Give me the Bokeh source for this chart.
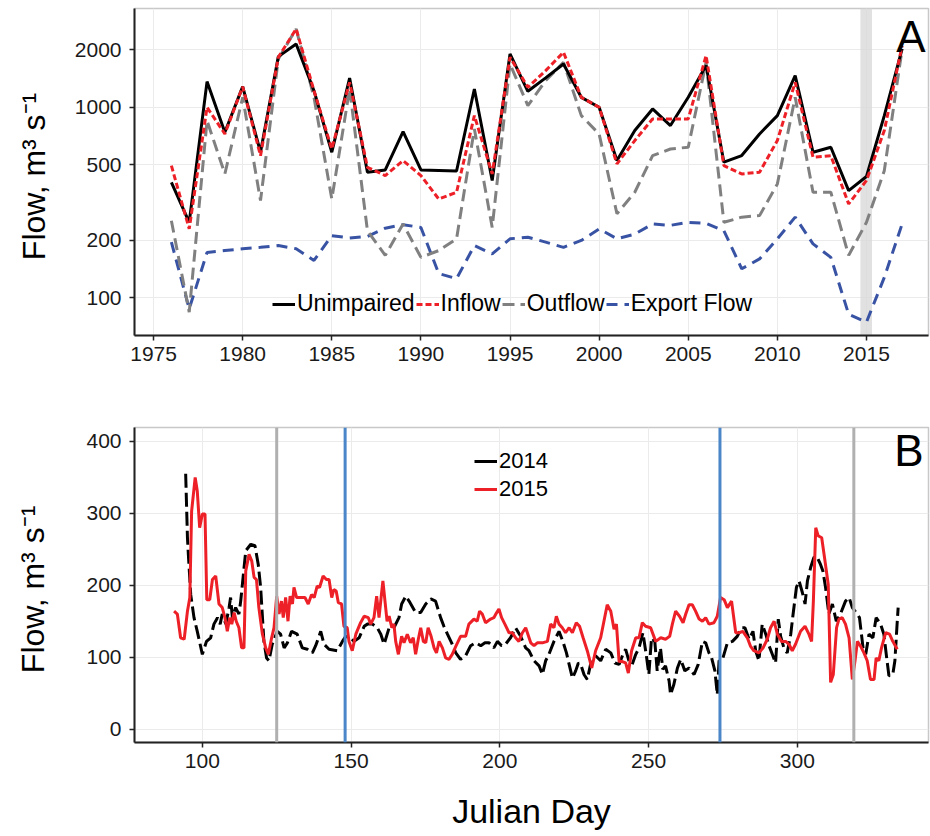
from bokeh.plotting import figure
from bokeh.models import (FixedTicker, PrintfTickFormatter, Legend, LegendItem,
                          BoxAnnotation, Span, Label, ColumnDataSource)
from bokeh.layouts import column
from bokeh.embed import file_html
from bokeh.resources import INLINE

# ---------------- Panel A data (annual flows, m3/s) ----------------
years = list(range(1976, 2018))
unimpaired = [404, 249, 1364, 740, 1283, 581, 1845, 2149, 1222, 581, 1425, 456, 469, 745,
              469, 466, 463, 1248, 413, 1906, 1213, 1426, 1688, 1128, 1000, 525, 755, 980, 802,
              1128, 1655, 515, 558, 724, 904, 1466, 581, 617, 365, 433, 904, 2023]
inflow = [494, 230, 1000, 725, 1283, 557, 1830, 2577, 1222, 604, 1352, 484, 438, 525,
          438, 330, 358, 904, 447, 1830, 1273, 1557, 1944, 1128, 1000, 505, 669, 869, 869,
          869, 1867, 494, 447, 456, 669, 1352, 547, 557, 311, 413, 755, 2108]
outflow = [254, 84, 851, 447, 1128, 324, 1794, 2577, 1128, 330, 1248, 225, 167, 244,
           163, 177, 204, 770, 234, 1688, 1020, 1380, 1721, 904, 724, 276, 358, 557, 604,
           617, 1721, 249, 265, 270, 396, 1128, 358, 358, 167, 249, 465, 2023]
export_flow = [196, 87.5, 173, 177, 181, 184, 188, 181, 157, 212, 206, 210, 232, 242,
               234, 134, 126, 188, 170, 204, 208, 196, 184, 200, 230, 204, 216, 244, 240,
               249, 246, 225, 142, 160, 204, 265, 192, 163, 82, 74.5, 128, 244]
drought_band = (2014.66, 2015.31)
a_xticks = [1975, 1980, 1985, 1990, 1995, 2000, 2005, 2010, 2015]
a_yticks = [100, 200, 500, 1000, 2000]

# ---------------- Panel B data (daily flows, m3/s) ----------------
day_2015 = [90.5, 91.6, 92.7, 93.9, 95, 95.8, 96.4, 97.6, 98.3, 99.1, 100, 100.9, 101.5, 102.5,
            103.4, 104.5, 105.6, 106.7, 107.6, 108.4, 109.2, 109.9, 110.7, 111.4, 112.3, 113.2,
            114, 114.6, 115.7, 116.6, 117.4, 118.2, 119, 120.2, 121.3, 122.2, 123.3, 124.1, 125,
            125.8, 126.6, 127.2, 128, 128.8, 129.5, 130.3, 130.8, 131.7, 133, 134.5, 135.6,
            136.7, 137.6, 138.6, 139.4, 140.6, 141.7, 142.6, 143.5, 144.2, 145, 145.7, 146.8,
            147.6, 148.7, 149.3, 150.4, 151.6, 153.2, 154.4, 155.8, 156.6, 157.7, 158.6, 159.4,
            160.1, 160.7, 161.4, 162.1, 162.8, 163.7, 164.4, 165, 165.9, 167, 167.8, 168.9, 170,
            170.9, 171.7, 172.6, 173.4, 174.3, 175.1, 175.9, 176.9, 177.9, 178.7, 179.6, 180.7,
            181.8, 182.9, 184, 185.2, 186.8, 188.5, 189.6, 191.3, 192.4, 193.2, 194.1, 195.2,
            196.9, 198, 198.8, 199.7, 200.6, 201.7, 203.1, 204.2, 205.3, 206.4, 207.6, 208.7,
            210.4, 211.5, 212.6, 214.3, 216, 217.1, 218.2, 219, 219.9, 221, 222.1, 223.3, 224.4,
            225.7, 226.8, 228, 229.4, 230.9, 232.2, 233.9, 235, 236.1, 237.3, 238.4, 239.2,
            240.1, 241.2, 242.3, 243.2, 244.3, 245.7, 246.8, 247.9, 249, 250.7, 252.4, 254.1,
            255.7, 257.1, 258, 259.1, 260.4, 261.6, 262.5, 263.6, 264.7, 265.8, 267, 268.1,
            269.2, 270.3, 272, 273.1, 274.2, 275.4, 276.5, 277.9, 279.3, 280.4, 281.7, 283.2,
            284.3, 285.4, 287.1, 288.5, 289.9, 291, 292.2, 293.3, 294.7, 296.1, 297.2, 298.3,
            299.4, 301.1, 302.6, 303.9, 304.8, 305.4, 306.2, 307, 308.2, 309.3, 310.4, 311.2,
            312.1, 313.2, 314, 315.1, 316.2, 317.4, 318.5, 319.4, 320.2, 321.3, 322.4, 323.5,
            324.6, 325.8, 326.5, 327.4, 328.3, 329.7, 331, 332.1, 333.6]
flow_2015 = [164, 160, 127, 125, 164, 183, 303, 350, 331, 280, 299, 299, 180, 180,
             208, 213, 174, 169, 155, 136, 155, 146, 162, 150, 141, 113,
             113, 220, 243, 234, 211, 208, 169, 132, 113, 104, 127, 141, 185,
             160, 178, 155, 183, 150, 185, 174, 197, 183, 183, 183, 174,
             187, 183, 199, 197, 213, 208, 208, 183, 194, 192, 176, 174,
             143, 141, 122, 109, 132, 148, 157, 155, 146, 155, 185, 155,
             183, 206, 178, 150, 157, 141, 146, 122, 104, 129, 120, 132, 120,
             127, 104, 125, 141, 122, 120, 141, 129, 113, 106, 122, 113,
             99, 97, 104, 115, 129, 129, 146, 153, 150, 164, 160, 148,
             153, 155, 161, 167, 155, 146, 134, 134, 127, 122, 134, 141,
             120, 116, 120, 120, 122, 146, 141, 157, 146, 141, 134, 141, 134,
             148, 143, 127, 109, 85, 109, 127, 150, 173, 164, 139, 146,
             94, 94, 92, 78, 109, 127, 127, 148, 143, 141, 122, 127,
             125, 129, 146, 164, 157, 148, 160, 173, 173, 164, 153, 150,
             155, 146, 148, 157, 183, 180, 169, 178, 134, 134, 136, 127,
             115, 109, 106, 113, 125, 141, 150, 132, 122, 122, 118, 109,
             118, 136, 143, 132, 122, 178, 280, 269, 266, 234, 201, 65,
             76, 141, 153, 155, 146, 127, 69, 95, 122, 115, 106, 95,
             69, 69, 99, 95, 113, 134, 132, 122, 111]
day_2014 = [94.4, 95, 95.3, 96.1, 97.2, 98.3, 100, 101.4, 102.8, 103.9, 105.1, 106, 106.7, 107.9,
            109, 109.5, 110.1, 111.2, 112.3, 112.9, 113.7, 114.6, 116.3, 117.7, 118.8, 119.6,
            120.7, 121.6, 122.4, 123.5, 125.2, 126.3, 127.5, 128.6, 130, 131.9, 133.6, 135.3,
            137, 138.1, 139.8, 140.9, 142.6, 145.4, 147.1, 148.2, 149.8, 151, 152.7, 154.4,
            155.5, 157.2, 158.8, 160, 161.1, 162.8, 164.4, 166.1, 167, 168.4, 169.5, 171.7,
            173.4, 175.1, 176.8, 178.4, 180.1, 181.2, 182.4, 183.8, 185.2, 186.8, 188.5, 190.2,
            191.9, 193.6, 195, 196.4, 198, 199.2, 200.6, 201.9, 203.6, 205.3, 207, 208.7, 209.8,
            211.5, 213.2, 214.3, 215.4, 216.5, 218.2, 219.9, 221.2, 222.4, 223.3, 224.4, 225.5,
            226.4, 227.2, 228.3, 229.4, 230.5, 232.2, 233.9, 235.6, 237.3, 238.7, 240.1, 241.4,
            242.3, 243.4, 244.5, 245.7, 246.8, 248.1, 249.2, 250.1, 251, 252.1, 252.9, 254,
            254.8, 255.7, 256.9, 257.4, 258.5, 259.7, 260.8, 262.2, 263.6, 265.3, 266.7, 268.1,
            269.2, 270.3, 271.2, 272.3, 273.1, 273.7, 275, 276.5, 278.2, 279.8, 281.3, 282.4,
            283.8, 285.1, 286, 287.1, 288.2, 289.4, 290.5, 291.6, 292.7, 293.6, 294.4, 295.5,
            296.6, 297.8, 298.5, 299.7, 300.6, 301.7, 302.6, 303.4, 304.5, 305.6, 306.7, 307.8,
            308.6, 309.5, 310.6, 311.8, 313.1, 314.5, 316.2, 317.4, 318.5, 319.8, 320.9, 322.1,
            323, 324.1, 325.4, 326.5, 328, 329.1, 329.9, 330.8, 332.1, 332.8, 333.6, 333.9]
flow_2014 = [355, 266, 243, 187, 155, 136, 104, 122, 127, 146, 155, 146, 160, 146,
             169, 183, 155, 169, 160, 178, 211, 248, 257, 255, 229, 197,
             122, 99, 95, 118, 136, 132, 113, 120, 136, 132, 113, 111,
             106, 116, 136, 118, 111, 109, 122, 129, 127, 122, 127, 143,
             146, 146, 141, 132, 118, 141, 141, 155, 174, 185, 178, 162,
             162, 174, 181, 178, 155, 143, 132, 120, 106, 97, 102, 116,
             120, 116, 120, 120, 113, 122, 116, 118, 127, 141, 129, 113, 109,
             95, 88, 76, 95, 104, 122, 136, 122, 106, 90, 71, 81,
             92, 90, 76, 69, 90, 102, 95, 111, 106, 92, 90, 104,
             111, 95, 90, 104, 113, 134, 104, 76, 127, 122, 81, 113,
             83, 88, 67, 48, 62, 85, 97, 81, 85, 76, 90, 122,
             120, 106, 99, 81, 48, 95, 99, 120, 122, 129, 141, 141,
             125, 136, 109, 95, 146, 132, 116, 104, 92, 153, 129, 113,
             106, 132, 157, 197, 206, 190, 174, 206, 225, 239, 239, 229,
             220, 197, 160, 174, 150, 160, 178, 183, 169, 162, 155, 113,
             104, 132, 127, 155, 146, 132, 104, 74, 76, 95, 150, 169]
b_xticks = [100, 150, 200, 250, 300]
b_yticks = [0, 100, 200, 300, 400]
gray_days = [125, 319]
blue_days = [148, 274]

FONT = "Liberation Sans"
RED = "#EE2027"


def style(p):
    p.background_fill_color = "white"
    p.border_fill_color = "white"
    p.outline_line_color = "#C8C8C8"
    p.outline_line_width = 1.5
    for ax in p.axis:
        ax.axis_line_color = "#222222"
        ax.axis_line_width = 2
        ax.major_tick_line_color = "#222222"
        ax.major_tick_line_width = 1.5
        ax.major_tick_out = 5
        ax.major_tick_in = 0
        ax.minor_tick_out = 0
        ax.minor_tick_in = 0
        ax.major_label_text_font = FONT
        ax.major_label_text_font_size = "21px"
        ax.major_label_text_color = "#1a1a1a"
        ax.major_label_standoff = 6
        ax.axis_label_text_font = FONT
        ax.axis_label_text_font_style = "normal"
        ax.axis_label_text_color = "#000000"
    for ax in p.yaxis:
        ax.major_label_standoff = 8
    for g in p.grid:
        g.grid_line_color = "#EBEBEB"
        g.grid_line_width = 1


# ---------------- Panel A ----------------
pa = figure(width=930, height=410, y_axis_type="log",
            x_range=(1973.93, 2018.48), y_range=(63.4, 3300),
            output_backend="svg", toolbar_location=None,
            min_border_left=134, min_border_right=2, min_border_top=8, min_border_bottom=75)
style(pa)
pa.xaxis.ticker = FixedTicker(ticks=a_xticks)
pa.xgrid.ticker = FixedTicker(ticks=a_xticks)
pa.yaxis.ticker = FixedTicker(ticks=a_yticks)
pa.ygrid.ticker = FixedTicker(ticks=a_yticks)
pa.yaxis.formatter = PrintfTickFormatter(format="%d")
pa.yaxis.axis_label = "Flow,  m³ s⁻¹"
pa.yaxis.axis_label_text_font_size = "32px"
pa.yaxis.axis_label_standoff = 20

pa.add_layout(BoxAnnotation(left=drought_band[0], right=drought_band[1],
                            fill_color="#DADADA", fill_alpha=0.8, line_alpha=0,
                            level="underlay"))

src_a = ColumnDataSource(dict(year=years, unimpaired=unimpaired, inflow=inflow,
                              outflow=outflow, export=export_flow))
r_exp = pa.line("year", "export", source=src_a, line_color="#3953A4", line_width=3,
                line_dash="11 7")
r_out = pa.line("year", "outflow", source=src_a, line_color="#808080", line_width=3,
                line_dash="12 6")
r_unimp = pa.line("year", "unimpaired", source=src_a, line_color="black", line_width=3)
r_in = pa.line("year", "inflow", source=src_a, line_color=RED, line_width=3,
               line_dash="6 3")

leg_a = Legend(items=[LegendItem(label="Unimpaired", renderers=[r_unimp]),
                      LegendItem(label="Inflow", renderers=[r_in]),
                      LegendItem(label="Outflow", renderers=[r_out]),
                      LegendItem(label="Export Flow", renderers=[r_exp])],
               orientation="horizontal", location=(138, 18),
               glyph_width=23, label_standoff=2, spacing=1, padding=0, margin=0,
               background_fill_alpha=0, border_line_alpha=0,
               label_text_font=FONT, label_text_font_size="23px",
               label_text_color="black")
pa.add_layout(leg_a)
pa.add_layout(Label(x=791, y=299, x_units="screen", y_units="screen", text="A",
                    text_align="right", text_baseline="alphabetic",
                    text_font=FONT, text_font_size="44px", text_color="black"))

# ---------------- Panel B ----------------
pb = figure(width=930, height=425, x_range=(77.2, 344.1), y_range=(-18.6, 419.4),
            output_backend="svg", toolbar_location=None,
            min_border_left=134, min_border_right=2, min_border_top=17, min_border_bottom=93)
style(pb)
pb.xaxis.ticker = FixedTicker(ticks=b_xticks)
pb.xgrid.ticker = FixedTicker(ticks=b_xticks)
pb.yaxis.ticker = FixedTicker(ticks=b_yticks)
pb.ygrid.ticker = FixedTicker(ticks=b_yticks)
pb.yaxis.axis_label = "Flow,  m³ s⁻¹"
pb.yaxis.axis_label_text_font_size = "32px"
pb.yaxis.axis_label_standoff = 32
pb.xaxis.axis_label = "Julian Day"
pb.xaxis.axis_label_text_font_size = "34px"
pb.xaxis.axis_label_standoff = 21

for d in gray_days:
    pb.add_layout(Span(location=d, dimension="height", line_color="#B0B0B0", line_width=3))
for d in blue_days:
    pb.add_layout(Span(location=d, dimension="height", line_color="#4A86C8", line_width=3))

r14 = pb.line(day_2014, flow_2014, line_color="black", line_width=3, line_dash="14 5")
r15 = pb.line(day_2015, flow_2015, line_color=RED, line_width=3)
# legend key for 2014: a single-point solid line (draws nothing in the plot),
# so the key shows one long dash as in the original
r14_key = pb.line(day_2014[:1], flow_2014[:1], line_color="black", line_width=3)

leg_b = Legend(items=[LegendItem(label="2014", renderers=[r14_key]),
                      LegendItem(label="2015", renderers=[r15])],
               orientation="vertical", location=(340, 240),
               glyph_width=23, label_standoff=2, spacing=2, padding=0, margin=0,
               background_fill_alpha=0, border_line_alpha=0,
               label_text_font=FONT, label_text_font_size="22px",
               label_text_color="black")
pb.add_layout(leg_b)
pb.add_layout(Label(x=789, y=292, x_units="screen", y_units="screen", text="B",
                    text_align="right", text_baseline="alphabetic",
                    text_font=FONT, text_font_size="44px", text_color="black"))

layout = column(pa, pb, spacing=0)
open("out.html", "w").write(file_html(layout, INLINE))
